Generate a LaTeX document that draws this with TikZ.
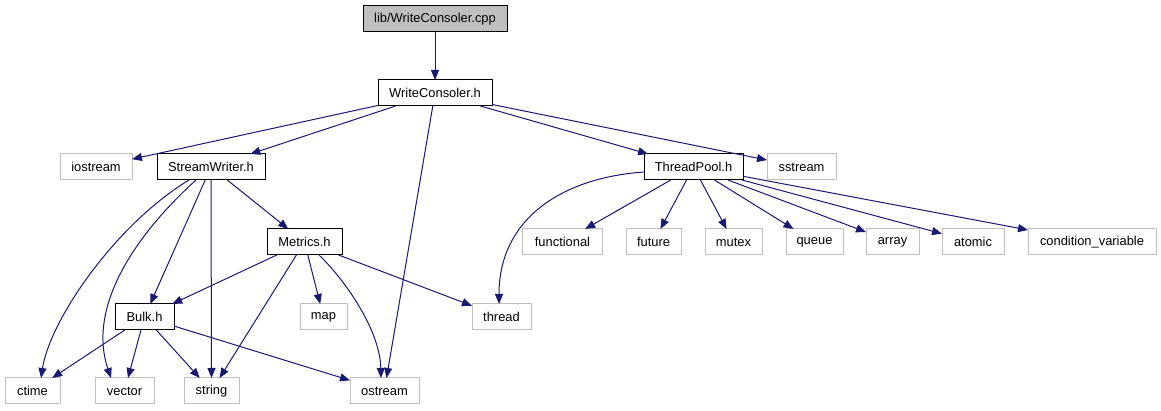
\documentclass[tikz,border=0pt]{standalone}
\usepackage{fontspec}
\setmainfont{Liberation Sans}
\usetikzlibrary{positioning, calc, arrows.meta}
\definecolor{edgeblue}{HTML}{191970}
\definecolor{sysgray}{HTML}{BFBFBF}

\begin{document}
\begin{tikzpicture}[x=1pt, y=1pt,
    box/.style={rectangle, minimum height=26pt, inner sep=0pt, outer sep=0pt,
        font=\fontsize{12.9}{14}\selectfont},
    hdr/.style={box, draw=black, line width=1pt},
    src/.style={hdr, fill=sysgray},
    sys/.style={box, draw=sysgray, line width=1pt},
    dep/.style={draw=edgeblue, line width=1pt,
        -{Triangle[length=10pt, width=8pt]}, edgeblue}]
    \useasboundingbox (0,0) rectangle (1161,411);
    % own files
    \node[src, minimum width=144pt] (cpp) at (435,392) {lib/WriteConsoler.cpp};
    \node[hdr, minimum width=114pt] (wch) at (435,318) {WriteConsoler.h};
    \node[hdr, minimum width=108pt] (streamw) at (211,244) {StreamWriter.h};
    \node[hdr, minimum width=99pt] (threadpool) at (693.5,244) {ThreadPool.h};
    \node[hdr, minimum width=75pt] (metrics) at (304.5,169) {Metrics.h};
    \node[hdr, minimum width=59pt] (bulk) at (144.5,94) {Bulk.h};
    % system headers
    \node[sys, minimum width=72pt] (iostream) at (96,244) {iostream};
    \node[sys, minimum width=69pt] (sstream) at (801.5,244) {sstream};
    \node[sys, minimum width=80pt] (functional) at (562.5,169) {functional};
    \node[sys, minimum width=55pt] (future) at (653.5,169) {future};
    \node[sys, minimum width=57pt] (mutex) at (733.5,169) {mutex};
    \node[sys, minimum width=57pt] (queue) at (814.5,169) {queue};
    \node[sys, minimum width=53pt] (array) at (892.5,169) {array};
    \node[sys, minimum width=62pt] (atomic) at (973,169) {atomic};
    \node[sys, minimum width=128pt] (condvar) at (1092,169) {condition\_variable};
    \node[sys, minimum width=47pt] (map) at (323.5,94) {map};
    \node[sys, minimum width=59pt] (thread) at (501.5,94) {thread};
    \node[sys, minimum width=55pt] (ctime) at (32.5,20) {ctime};
    \node[sys, minimum width=59pt] (vector) at (124.5,20) {vector};
    \node[sys, minimum width=55pt] (string) at (211.5,20) {string};
    \node[sys, minimum width=69pt] (ostream) at (384.5,20) {ostream};
    % includes
    \draw[dep] (cpp) -- (wch);
    \draw[dep] (wch) -- (iostream);
    \draw[dep] (wch) -- (streamw);
    \draw[dep] (wch) -- ([xshift=2pt]ostream.north);
    \draw[dep] (wch) -- (threadpool);
    \draw[dep] (wch) -- (sstream);
    \draw[dep] ([xshift=-22pt]streamw.south) .. controls (115,186) and (50,91) .. ([xshift=8.5pt]ctime.north);
    \draw[dep] ([xshift=-15pt]streamw.south) .. controls (130,171) and (88,101) .. ([xshift=-13.5pt]vector.north);
    \draw[dep] (streamw) -- (bulk);
    \draw[dep] (streamw.south) -- (string.north);
    \draw[dep] (streamw) -- (metrics);
    \draw[dep] (metrics) -- (bulk);
    \draw[dep] (metrics) -- (string);
    \draw[dep] (metrics) -- (map);
    \draw[dep] ([xshift=14.5pt]metrics.south) .. controls (345,131) and (380,81) .. ([xshift=-3.5pt]ostream.north);
    \draw[dep] (metrics) -- (thread);
    \draw[dep] (bulk) -- (ctime);
    \draw[dep] (bulk) -- (vector);
    \draw[dep] (bulk) -- (string);
    \draw[dep] (bulk) -- (ostream);
    \draw[dep] ([yshift=-5pt]threadpool.west) .. controls (560,233) and (499,191) .. ([xshift=-2.5pt]thread.north);
    \draw[dep] (threadpool) -- (functional);
    \draw[dep] (threadpool) -- (future);
    \draw[dep] (threadpool) -- (mutex);
    \draw[dep] (threadpool) -- (queue);
    \draw[dep] (threadpool) -- (array);
    \draw[dep] (threadpool) -- (atomic);
    \draw[dep] (threadpool) -- (condvar);
\end{tikzpicture}
\end{document}
